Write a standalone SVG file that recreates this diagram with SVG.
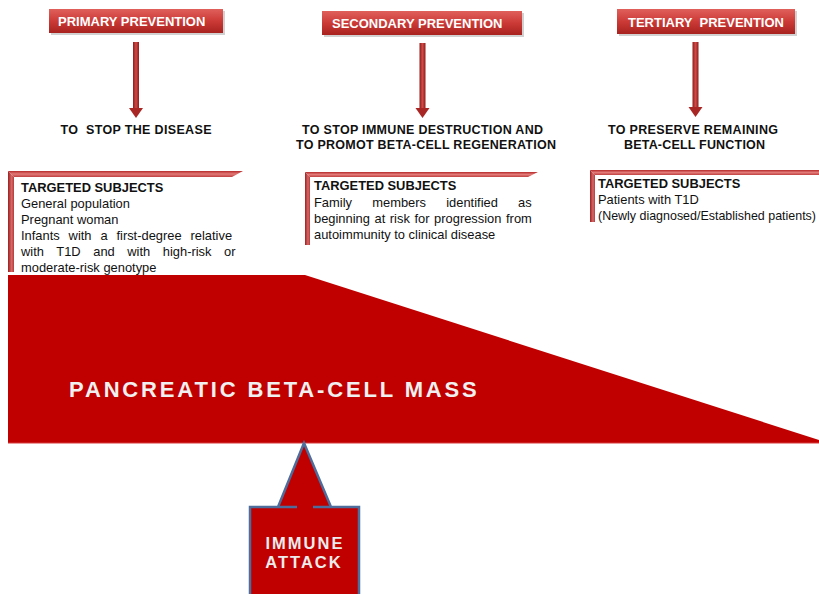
<svg xmlns="http://www.w3.org/2000/svg" width="819" height="594" viewBox="0 0 819 594">
<defs>
<linearGradient id="hdr" x1="0" y1="0" x2="0" y2="1">
<stop offset="0" stop-color="#e0605c"/>
<stop offset="0.5" stop-color="#cc3a36"/>
<stop offset="1" stop-color="#a8221f"/>
</linearGradient>
<linearGradient id="shaft" x1="0" y1="0" x2="1" y2="0">
<stop offset="0" stop-color="#8e1c1c"/>
<stop offset="0.5" stop-color="#d04a45"/>
<stop offset="1" stop-color="#8e1c1c"/>
</linearGradient>
<linearGradient id="frameTop" x1="0" y1="0" x2="0" y2="1">
<stop offset="0" stop-color="#b52a2a"/>
<stop offset="0.5" stop-color="#e27a78"/>
<stop offset="1" stop-color="#c04040"/>
</linearGradient>
<linearGradient id="frameLeft" x1="0" y1="0" x2="1" y2="0">
<stop offset="0" stop-color="#9e1f1f"/>
<stop offset="0.6" stop-color="#d46a68"/>
<stop offset="1" stop-color="#b83838"/>
</linearGradient>
</defs>
<style>
.hdrbox{fill:url(#hdr);}
.shadow{fill:#000;opacity:0.18;}
.hdrtxt{font-family:"Liberation Sans",Arial,sans-serif;font-weight:bold;font-size:13px;fill:#fff;white-space:pre;}
.goal{font-family:"Liberation Sans",Arial,sans-serif;font-weight:bold;font-size:12.5px;fill:#111;text-anchor:middle;white-space:pre;}
.sub{font-family:"Liberation Sans",Arial,sans-serif;font-size:12.9px;fill:#111;}
.subh{font-family:"Liberation Sans",Arial,sans-serif;font-size:12.9px;font-weight:bold;fill:#111;}
.ftop{fill:url(#frameTop);}
.fleft{fill:url(#frameLeft);}
.head{fill:#a82624;}
.mass{font-family:"Liberation Sans",Arial,sans-serif;font-weight:bold;font-size:22px;fill:#f0f0f0;letter-spacing:2.85px;}
.imm{font-family:"Liberation Sans",Arial,sans-serif;font-weight:bold;font-size:16.5px;fill:#ececec;letter-spacing:2px;text-anchor:middle;}
</style>

<g id="beta-cell-mass">
<polygon points="8,275 305,275 819,440 819,443 8,443" fill="#c00000"/>
<line x1="8" y1="443" x2="819" y2="443" stroke="#d63a3a" stroke-width="1.2"/>
<text class="mass" x="69" y="397">PANCREATIC BETA-CELL MASS</text>
</g>

<g id="immune-attack">
<path d="M250,600 V507 H278 L304,443 L331,507 H359 V600 Z" fill="#c00000"/>
<path d="M250,600 V507 H297 M313,507 H359 V600 M278,507 L304,443 L331,507" fill="none" stroke="#4d6e9c" stroke-width="2.5"/>
<text class="imm" x="305" y="549">IMMUNE</text>
<text class="imm" x="304" y="568">ATTACK</text>
</g>

<g id="primary-prevention">
<rect class="shadow" x="51" y="11" width="174" height="24"/>
<rect class="hdrbox" x="49" y="9" width="174" height="24"/>
<text class="hdrtxt" x="58" y="26">PRIMARY PREVENTION</text>
</g>
<g id="secondary-prevention">
<rect class="shadow" x="324" y="13" width="200" height="24"/>
<rect class="hdrbox" x="322" y="11" width="200" height="24"/>
<text class="hdrtxt" x="332" y="28">SECONDARY PREVENTION</text>
</g>
<g id="tertiary-prevention">
<rect class="shadow" x="619" y="11" width="178" height="25"/>
<rect class="hdrbox" x="617" y="9" width="178" height="25"/>
<text class="hdrtxt" x="628" y="27" textLength="156" lengthAdjust="spacing">TERTIARY  PREVENTION</text>
</g>

<g id="connectors">
<rect x="133" y="42" width="6" height="68" fill="url(#shaft)"/>
<path class="head" d="M129,108 L143,108 L136,118 Z"/>
<rect x="419.5" y="43" width="6" height="66" fill="url(#shaft)"/>
<path class="head" d="M415.5,108 L429.5,108 L422.5,118 Z"/>
<rect x="692.5" y="42" width="6" height="66" fill="url(#shaft)"/>
<path class="head" d="M688.5,107 L702.5,107 L695.5,117 Z"/>
</g>

<g id="goal-primary">
<text class="goal" x="136" y="134" textLength="151">TO  STOP THE DISEASE</text>
</g>
<g id="goal-secondary">
<text class="goal" x="422.5" y="134" textLength="241">TO STOP IMMUNE DESTRUCTION AND</text>
<text class="goal" x="426" y="149" textLength="260">TO PROMOT BETA-CELL REGENERATION</text>
</g>
<g id="goal-tertiary">
<text class="goal" x="693" y="134" textLength="170">TO PRESERVE REMAINING</text>
<text class="goal" x="694.5" y="149" textLength="141">BETA-CELL FUNCTION</text>
</g>

<g id="subjects-primary">
<polygon class="ftop" points="8,171 243,171 232,177 14,177"/>
<polygon class="fleft" points="8,171 14,177 14,272 8,272"/>
<text class="subh" x="21" y="192">TARGETED SUBJECTS</text>
<text class="sub" x="21" y="208">General population</text>
<text class="sub" x="21" y="224">Pregnant woman</text>
<text class="sub" x="21" y="240" style="word-spacing:5.3px">Infants with a first-degree relative</text>
<text class="sub" x="21" y="256" style="word-spacing:9px">with T1D and with high-risk or</text>
<text class="sub" x="21" y="272">moderate-risk genotype</text>
</g>

<g id="subjects-secondary">
<polygon class="ftop" points="305,172 538,172 528,177 310,177"/>
<polygon class="fleft" points="305,172 310,177 310,245 305,245"/>
<text class="subh" x="314" y="190">TARGETED SUBJECTS</text>
<text class="sub" x="314" y="207" style="word-spacing:16.7px">Family members identified as</text>
<text class="sub" x="314" y="223" style="word-spacing:1px">beginning at risk for progression from</text>
<text class="sub" x="314" y="239">autoimmunity to clinical disease</text>
</g>

<g id="subjects-tertiary">
<polygon class="ftop" points="590,170 819,170 819,175 595,175"/>
<polygon class="fleft" points="590,170 595,175 595,222 590,222"/>
<text class="subh" x="598" y="188">TARGETED SUBJECTS</text>
<text class="sub" x="598" y="204">Patients with T1D</text>
<text class="sub" x="598" y="220" style="font-size:12.4px" textLength="218" lengthAdjust="spacingAndGlyphs">(Newly diagnosed/Established patients)</text>
</g>
</svg>
